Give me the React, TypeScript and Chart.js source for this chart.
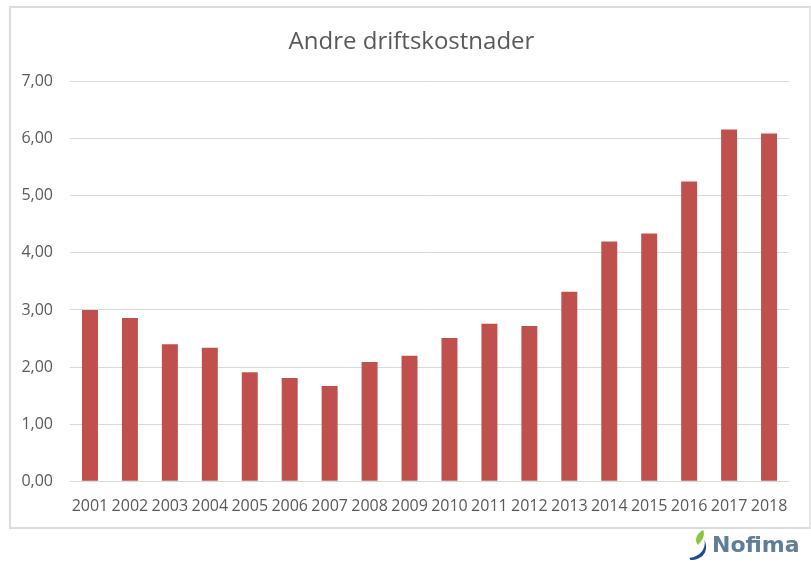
import React, { useEffect, useRef } from "react";
import { Chart, registerables } from "chart.js";

Chart.register(...registerables);

const chartTitle = "Andre driftskostnader";
const years = [
  "2001", "2002", "2003", "2004", "2005", "2006", "2007", "2008", "2009",
  "2010", "2011", "2012", "2013", "2014", "2015", "2016", "2017", "2018",
];
const costs = [
  3.0, 2.86, 2.4, 2.34, 1.91, 1.81, 1.67, 2.09, 2.2,
  2.51, 2.76, 2.72, 3.32, 4.2, 4.34, 5.25, 6.16, 6.09,
];
const yTickLabels = ["0,00", "1,00", "2,00", "3,00", "4,00", "5,00", "6,00", "7,00"];

const textColor = "#595959";
const barColor = "#c0504d";
const gridColor = "#d9d9d9";
const fontFamily = "'Open Sans', 'Liberation Sans', sans-serif";

const titlePlugin = {
  id: "frameTitle",
  afterDraw(chart: any) {
    const ctx = chart.ctx;
    ctx.save();
    ctx.font = `24px ${fontFamily}`;
    ctx.fillStyle = textColor;
    ctx.textAlign = "center";
    ctx.textBaseline = "alphabetic";
    ctx.fillText(chartTitle, 411.5, 48.5);
    ctx.restore();
  },
};

export default function App() {
  const canvasRef = useRef<HTMLCanvasElement | null>(null);

  useEffect(() => {
    const canvas = canvasRef.current;
    if (!canvas) return;
    const chart = new Chart(canvas, {
      type: "bar",
      data: {
        labels: years,
        datasets: [
          {
            label: chartTitle,
            data: costs,
            backgroundColor: barColor,
            borderWidth: 0,
            barPercentage: 0.8,
            categoryPercentage: 0.5,
          },
        ],
      },
      options: {
        responsive: false,
        animation: false,
        devicePixelRatio: 1,
        layout: { padding: { left: 0, right: 22, top: 81.5, bottom: 38.5 } },
        plugins: {
          legend: { display: false },
          tooltip: { enabled: false },
          title: { display: false },
        },
        scales: {
          x: {
            grid: { display: false },
            border: { display: false },
            ticks: {
              color: textColor,
              font: { family: fontFamily, size: 16 },
              padding: 8,
              maxRotation: 0,
              autoSkip: false,
            },
          },
          y: {
            min: 0,
            max: 7,
            afterFit: (scale: any) => {
              scale.width = 70;
            },
            grid: { color: gridColor, lineWidth: 1, drawTicks: false },
            border: { display: false },
            ticks: {
              stepSize: 1,
              color: textColor,
              font: { family: fontFamily, size: 16 },
              padding: 17,
              callback: (_v: any, i: number) => yTickLabels[i],
            },
          },
        },
      },
      plugins: [titlePlugin],
    });
    return () => chart.destroy();
  }, []);

  return (
    <div style={{ position: "absolute", left: 0, top: 0, width: 811, height: 563, background: "#ffffff", overflow: "hidden" }}>
      <div
        style={{
          position: "absolute",
          left: 9,
          top: 6,
          width: 802,
          height: 523,
          border: "2px solid #dcdcdc",
          borderRight: "2px solid #e6e6e6",
          background: "#ffffff",
          boxSizing: "border-box",
        }}
      />
      <canvas ref={canvasRef} width={811} height={563} style={{ position: "absolute", left: 0, top: 0 }} />
      <div style={{ position: "absolute", left: 688, top: 530, height: 30, display: "flex", alignItems: "center" }}>
        <svg width="22" height="30" viewBox="0 0 20 28">
          <path d="M14 0 C 8 3, 5 9, 9 14 C 13 10, 16 5, 14 0 Z" fill="#8cc63f" />
          <path d="M15 9 C 17 17, 11 25, 1 26 L 2 28 C 13 28, 20 20, 15 9 Z" fill="#1f4e8c" />
        </svg>
        <span
          style={{
            fontFamily: "'DejaVu Sans', sans-serif",
            fontWeight: "bold",
            fontSize: 22,
            color: "#5f7f99",
            marginLeft: 2,
            lineHeight: "30px",
          }}
        >
          Nofima
        </span>
      </div>
    </div>
  );
}
